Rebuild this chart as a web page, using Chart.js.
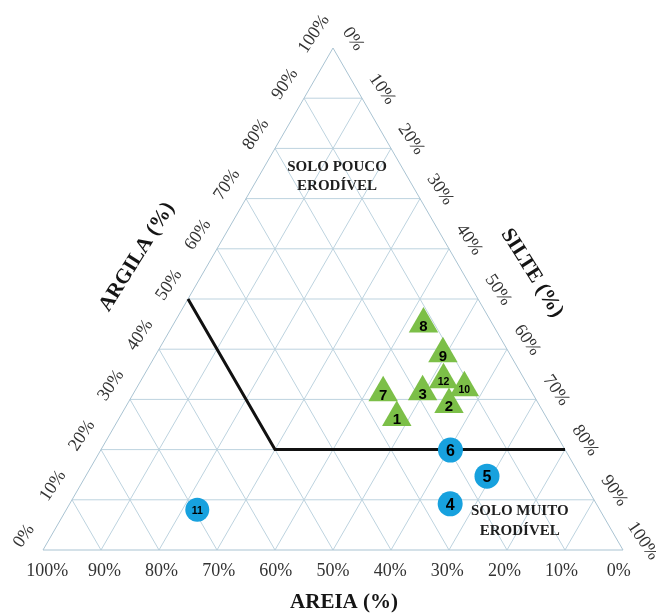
<!DOCTYPE html>
<html>
<head>
<meta charset="utf-8">
<title>Textura do solo</title>
<script src="https://cdn.jsdelivr.net/npm/chart.js@4.4.1/dist/chart.umd.min.js"></script>
<style>
  html, body { margin: 0; padding: 0; background: #ffffff; }
  canvas { display: block; }
</style>
</head>
<body>
<canvas id="ternary" width="656" height="614"></canvas>
<script>
// Soil samples plotted as green triangles (percent of sand, silt, clay)
const triLabels = ['1', '2', '3', '7', '8', '9', '10', '12'];
const triSand   = [25.8, 15.5, 18.8, 25.7, 11.9, 11.5, 11.2, 14.0];
const triSilt   = [47.8, 55.5, 49.7, 43.0, 43.1, 49.4, 56.5, 52.1];
const triClay   = [26.4, 29.0, 31.5, 31.3, 45.0, 39.1, 32.3, 33.9];

// Soil samples plotted as blue circles
const dotLabels = ['4', '5', '6', '11'];
const dotSand   = [25.2, 16.1, 19.8, 69.4];
const dotSilt   = [65.6, 69.2, 60.3, 22.6];
const dotClay   = [9.2, 14.7, 19.9, 8.0];

// Erodibility limit (sand 50% segment, then clay 20% segment)
const limitSilt = [0, 30, 80];
const limitClay = [50, 20, 20];

// Axis tick values (percent)
const tickValues = [0, 10, 20, 30, 40, 50, 60, 70, 80, 90, 100];

const H = Math.sqrt(3) / 2;
// silt/clay composition -> cartesian position inside the triangle
function toXY(silt, clay) {
  return { x: silt + clay / 2, y: clay * H };
}

const triPoints = triSilt.map((s, i) => toXY(s, triClay[i]));
const dotPoints = dotSilt.map((s, i) => toXY(s, dotClay[i]));
const limitPoints = limitSilt.map((s, i) => toXY(s, limitClay[i]));

const GRID = '#bdd3df';
const EDGE = '#a9c3d2';

const ternaryPlugin = {
  id: 'ternary',
  beforeDatasetsDraw(chart) {
    const { ctx, scales: { x: xs, y: ys } } = chart;
    const P = (silt, clay) => {
      const q = toXY(silt, clay);
      return [xs.getPixelForValue(q.x), ys.getPixelForValue(q.y)];
    };
    ctx.save();
    ctx.lineWidth = 1;
    ctx.strokeStyle = GRID;
    for (let v = 10; v < 100; v += 10) {
      const segs = [
        [P(0, v), P(100 - v, v)],           // constant clay
        [P(v, 0), P(v, 100 - v)],           // constant silt
        [P(100 - v, 0), P(0, 100 - v)]      // constant sand
      ];
      segs.forEach(([a, b]) => {
        ctx.beginPath();
        ctx.moveTo(a[0], a[1]);
        ctx.lineTo(b[0], b[1]);
        ctx.stroke();
      });
    }
    ctx.strokeStyle = EDGE;
    ctx.beginPath();
    const c0 = P(0, 0), c1 = P(100, 0), c2 = P(0, 100);
    ctx.moveTo(c0[0], c0[1]);
    ctx.lineTo(c1[0], c1[1]);
    ctx.lineTo(c2[0], c2[1]);
    ctx.closePath();
    ctx.stroke();

    // region names
    ctx.fillStyle = '#1e1e1e';
    ctx.font = 'bold 15px "Liberation Serif", "Times New Roman", serif';
    ctx.textAlign = 'center';
    ctx.textBaseline = 'middle';
    const topX = xs.getPixelForValue(50.7), topY = ys.getPixelForValue(64.4);
    ctx.fillText('SOLO POUCO', topX, topY - 9.5);
    ctx.fillText('ERODÍVEL', topX, topY + 9.5);
    const lowX = xs.getPixelForValue(82.2), lowY = ys.getPixelForValue(4.9);
    ctx.fillText('SOLO MUITO', lowX, lowY - 10);
    ctx.fillText('ERODÍVEL', lowX, lowY + 10);
    ctx.restore();
  },
  afterDatasetsDraw(chart) {
    const { ctx, scales: { x: xs, y: ys } } = chart;
    const P = (silt, clay) => {
      const q = toXY(silt, clay);
      return [xs.getPixelForValue(q.x), ys.getPixelForValue(q.y)];
    };
    const rotText = (txt, x, y, ang) => {
      ctx.save();
      ctx.translate(x, y);
      ctx.rotate(ang * Math.PI / 180);
      ctx.fillText(txt, 0, 0);
      ctx.restore();
    };

    // marker numbers
    ctx.save();
    ctx.fillStyle = '#000000';
    ctx.textAlign = 'center';
    ctx.textBaseline = 'alphabetic';
    const drawNums = (dsIndex, labels, big, small, dy) => {
      const meta = chart.getDatasetMeta(dsIndex);
      meta.data.forEach((el, i) => {
        const t = labels[i];
        const f = t.length > 1 ? small : big;
        ctx.font = 'bold ' + f + 'px "Liberation Sans", Arial, sans-serif';
        ctx.fillText(t, el.x, el.y + dy + 0.358 * f);
      });
    };
    drawNums(1, triLabels, 15, 10.5, 1.5);
    drawNums(2, dotLabels, 16, 10.5, 0);

    // tick labels
    ctx.fillStyle = '#333333';
    ctx.font = '18px "Liberation Serif", "Times New Roman", serif';
    ctx.textBaseline = 'middle';
    const cx = xs.getPixelForValue(50);
    tickValues.forEach(v => {
      // sand along the base
      const b = P(100 - v, 0);
      ctx.fillText(v + '%', cx + (b[0] - cx) * 0.985, b[1] + 21);
      // clay along the left side
      const l = P(0, v);
      rotText(v + '%', l[0] - 19, l[1] - 14, -56);
      // silt along the right side
      const r = P(v, 100 - v);
      rotText(v + '%', r[0] + 20, r[1] - 9, 56);
    });

    // axis titles
    ctx.fillStyle = '#151515';
    ctx.font = 'bold 21px "Liberation Serif", "Times New Roman", serif';
    ctx.fillText('AREIA (%)', cx + 11, xs.bottom !== undefined ? ys.getPixelForValue(0) + 53 : 603);
    const lt = P(0, 50);
    rotText('ARGILA (%)', lt[0] - 51, lt[1] - 42, -58);
    const rt = P(50, 50);
    rotText('SILTE (%)', rt[0] + 54, rt[1] - 26, 58);
    ctx.restore();
  }
};

new Chart(document.getElementById('ternary'), {
  type: 'scatter',
  data: {
    datasets: [
      {
        label: 'limite',
        data: limitPoints,
        showLine: true,
        borderColor: '#111111',
        borderWidth: 3,
        pointRadius: 0,
        fill: false,
        order: 3,
        clip: false
      },
      {
        label: 'triângulos',
        data: triPoints,
        pointStyle: 'triangle',
        pointRadius: 17,
        backgroundColor: '#7cbf48',
        borderColor: '#7cbf48',
        borderWidth: 0,
        order: 2,
        clip: false
      },
      {
        label: 'círculos',
        data: dotPoints,
        pointStyle: 'circle',
        pointRadius: [12.5, 12.5, 12.5, 12],
        backgroundColor: '#17a1de',
        borderColor: '#17a1de',
        borderWidth: 0,
        order: 1,
        clip: false
      }
    ]
  },
  options: {
    responsive: false,
    animation: false,
    events: [],
    layout: { padding: { left: 43, right: 33, top: 48, bottom: 64 } },
    plugins: { legend: { display: false }, tooltip: { enabled: false }, title: { display: false } },
    scales: {
      x: { type: 'linear', min: 0, max: 100, display: false },
      y: { type: 'linear', min: 0, max: 50 * Math.sqrt(3), display: false }
    }
  },
  plugins: [ternaryPlugin]
});
</script>
</body>
</html>
